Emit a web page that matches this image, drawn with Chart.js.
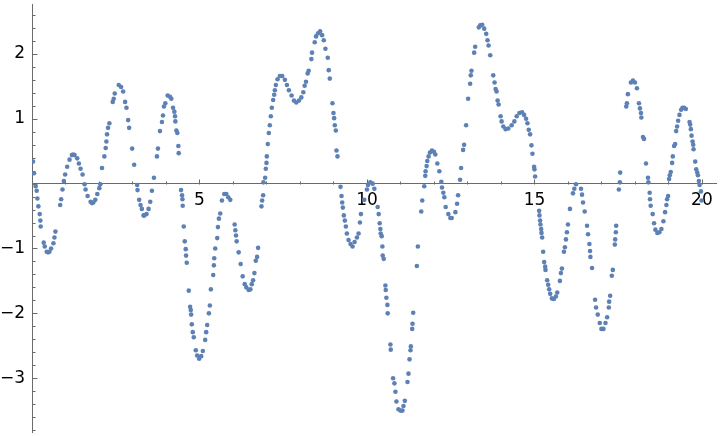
<!DOCTYPE html>
<html>
<head>
<meta charset="utf-8">
<script src="https://cdn.jsdelivr.net/npm/chart.js@4"></script>
<style>
  html, body { margin: 0; padding: 0; background: #fff; }
</style>
</head>
<body>
<canvas id="plot" width="720" height="436"></canvas>
<script>
const samples = [
  [0.03,0.34],[0.06,0.16],[0.11,-0.04],[0.14,-0.11],[0.16,-0.23],[0.19,-0.35],[0.23,-0.47],[0.25,-0.57],
  [0.26,-0.66],[0.35,-0.91],[0.38,-0.97],[0.44,-1.05],[0.48,-1.06],[0.52,-1.05],[0.57,-1.00],[0.64,-0.92],
  [0.67,-0.83],[0.70,-0.74],[0.84,-0.33],[0.87,-0.24],[0.91,-0.09],[0.95,0.04],[0.99,0.14],[1.05,0.26],
  [1.12,0.37],[1.19,0.44],[1.23,0.45],[1.27,0.44],[1.35,0.39],[1.40,0.31],[1.45,0.23],[1.51,0.14],
  [1.57,-0.01],[1.60,-0.09],[1.66,-0.19],[1.75,-0.28],[1.79,-0.30],[1.83,-0.29],[1.89,-0.25],[1.95,-0.16],
  [2.01,-0.07],[2.04,-0.01],[2.09,0.24],[2.16,0.42],[2.20,0.55],[2.22,0.65],[2.24,0.76],[2.27,0.86],
  [2.31,0.93],[2.41,1.26],[2.44,1.31],[2.47,1.39],[2.59,1.52],[2.66,1.49],[2.72,1.42],[2.78,1.26],
  [2.82,1.17],[2.87,0.98],[2.90,0.86],[2.99,0.54],[3.05,0.29],[3.14,-0.02],[3.15,-0.10],[3.20,-0.25],
  [3.24,-0.33],[3.28,-0.39],[3.33,-0.49],[3.35,-0.49],[3.42,-0.47],[3.48,-0.39],[3.53,-0.28],[3.58,-0.11],
  [3.64,0.09],[3.73,0.42],[3.76,0.54],[3.82,0.81],[3.88,0.95],[3.91,1.05],[3.94,1.19],[3.98,1.24],
  [4.05,1.36],[4.12,1.34],[4.16,1.31],[4.21,1.17],[4.25,1.11],[4.27,1.04],[4.28,0.96],[4.31,0.82],
  [4.34,0.78],[4.37,0.58],[4.38,0.47],[4.45,-0.10],[4.48,-0.18],[4.49,-0.24],[4.50,-0.34],[4.53,-0.66],
  [4.56,-0.89],[4.59,-1.01],[4.60,-1.11],[4.62,-1.22],[4.68,-1.65],[4.72,-1.90],[4.74,-1.95],[4.75,-2.02],
  [4.77,-2.17],[4.80,-2.29],[4.83,-2.37],[4.89,-2.57],[4.93,-2.65],[4.99,-2.70],[5.05,-2.66],[5.10,-2.58],
  [5.17,-2.41],[5.20,-2.29],[5.23,-2.18],[5.28,-2.00],[5.31,-1.88],[5.34,-1.63],[5.41,-1.41],[5.43,-1.26],
  [5.44,-1.15],[5.47,-1.00],[5.53,-0.84],[5.55,-0.67],[5.58,-0.54],[5.62,-0.46],[5.67,-0.26],[5.74,-0.16],
  [5.80,-0.16],[5.86,-0.21],[5.92,-0.25],[6.05,-0.63],[6.07,-0.72],[6.09,-0.80],[6.11,-0.89],[6.17,-1.06],
  [6.23,-1.24],[6.29,-1.43],[6.35,-1.55],[6.40,-1.60],[6.47,-1.64],[6.52,-1.63],[6.56,-1.55],[6.60,-1.49],
  [6.64,-1.38],[6.68,-1.19],[6.72,-1.13],[6.75,-0.99],[6.85,-0.35],[6.87,-0.26],[6.90,-0.18],[6.91,0.02],
  [6.96,0.09],[6.98,0.23],[7.00,0.32],[7.01,0.42],[7.04,0.61],[7.07,0.78],[7.10,0.90],[7.13,1.04],
  [7.16,1.17],[7.20,1.29],[7.23,1.37],[7.25,1.44],[7.28,1.52],[7.33,1.61],[7.40,1.66],[7.47,1.66],
  [7.55,1.60],[7.61,1.52],[7.67,1.44],[7.75,1.36],[7.82,1.28],[7.89,1.25],[7.97,1.28],[8.04,1.33],
  [8.10,1.41],[8.14,1.51],[8.18,1.57],[8.23,1.70],[8.26,1.74],[8.34,1.92],[8.36,2.02],[8.44,2.18],
  [8.48,2.27],[8.54,2.32],[8.60,2.35],[8.66,2.29],[8.71,2.21],[8.76,2.08],[8.83,1.94],[8.86,1.75],
  [8.89,1.62],[8.97,1.24],[9.00,1.09],[9.02,1.01],[9.04,0.90],[9.07,0.82],[9.09,0.51],[9.12,0.42],
  [9.21,-0.05],[9.24,-0.19],[9.26,-0.29],[9.28,-0.37],[9.31,-0.49],[9.34,-0.57],[9.37,-0.66],[9.40,-0.77],
  [9.45,-0.87],[9.51,-0.93],[9.57,-0.97],[9.63,-0.90],[9.70,-0.83],[9.75,-0.77],[9.79,-0.60],[9.82,-0.47],
  [9.92,-0.25],[10.00,-0.09],[10.03,-0.02],[10.10,0.02],[10.17,0.00],[10.22,-0.08],[10.32,-0.36],[10.35,-0.47],
  [10.38,-0.61],[10.40,-0.70],[10.41,-0.77],[10.44,-0.81],[10.46,-0.97],[10.47,-1.11],[10.50,-1.16],[10.55,-1.57],
  [10.56,-1.64],[10.58,-1.76],[10.61,-1.87],[10.62,-2.00],[10.70,-2.48],[10.71,-2.56],[10.78,-3.00],[10.82,-3.08],
  [10.85,-3.21],[10.88,-3.36],[10.94,-3.48],[11.00,-3.50],[11.06,-3.50],[11.09,-3.43],[11.13,-3.35],[11.21,-3.06],
  [11.24,-2.93],[11.27,-2.71],[11.30,-2.57],[11.31,-2.51],[11.35,-2.24],[11.36,-2.16],[11.38,-1.99],[11.49,-1.27],
  [11.52,-0.97],[11.62,-0.43],[11.65,-0.26],[11.71,-0.04],[11.74,0.12],[11.75,0.19],[11.78,0.27],[11.80,0.35],
  [11.84,0.42],[11.88,0.48],[11.94,0.51],[12.00,0.49],[12.04,0.45],[12.10,0.31],[12.16,0.19],[12.22,0.03],
  [12.24,-0.06],[12.28,-0.14],[12.31,-0.21],[12.35,-0.36],[12.43,-0.47],[12.49,-0.53],[12.53,-0.53],[12.64,-0.44],
  [12.69,-0.31],[12.72,-0.18],[12.78,0.06],[12.81,0.24],[12.87,0.52],[12.90,0.60],[12.96,0.90],[13.02,1.31],
  [13.08,1.54],[13.10,1.67],[13.12,1.74],[13.20,2.02],[13.23,2.11],[13.34,2.41],[13.38,2.44],[13.44,2.45],
  [13.50,2.39],[13.56,2.31],[13.60,2.21],[13.63,2.13],[13.68,1.98],[13.77,1.67],[13.81,1.56],[13.84,1.46],
  [13.87,1.42],[13.90,1.28],[13.93,1.22],[13.99,1.04],[14.02,0.96],[14.07,0.88],[14.14,0.84],[14.22,0.85],
  [14.32,0.90],[14.40,0.96],[14.47,1.04],[14.55,1.09],[14.63,1.10],[14.69,1.06],[14.75,1.00],[14.79,0.93],
  [14.83,0.83],[14.87,0.76],[14.91,0.59],[14.94,0.46],[14.99,0.26],[15.00,0.22],[15.02,0.11],[15.14,-0.42],
  [15.15,-0.49],[15.17,-0.57],[15.18,-0.63],[15.20,-0.70],[15.21,-0.76],[15.23,-0.83],[15.26,-1.05],[15.29,-1.21],
  [15.32,-1.28],[15.33,-1.33],[15.38,-1.49],[15.41,-1.56],[15.44,-1.63],[15.47,-1.70],[15.52,-1.77],[15.58,-1.78],
  [15.64,-1.74],[15.68,-1.68],[15.76,-1.50],[15.79,-1.38],[15.82,-1.31],[15.88,-1.05],[15.91,-0.98],[15.94,-0.86],
  [15.97,-0.75],[16.00,-0.63],[16.06,-0.39],[16.15,-0.15],[16.19,-0.08],[16.24,-0.01],[16.39,-0.08],[16.42,-0.17],
  [16.45,-0.29],[16.50,-0.43],[16.57,-0.65],[16.60,-0.78],[16.64,-0.93],[16.66,-1.04],[16.67,-1.13],[16.72,-1.30],
  [16.81,-1.79],[16.84,-1.91],[16.89,-2.02],[16.95,-2.15],[17.00,-2.24],[17.06,-2.24],[17.12,-2.15],[17.17,-2.06],
  [17.22,-1.91],[17.23,-1.82],[17.26,-1.73],[17.31,-1.42],[17.34,-1.33],[17.40,-0.94],[17.41,-0.86],[17.43,-0.75],
  [17.44,-0.65],[17.52,-0.09],[17.55,0.02],[17.56,0.17],[17.74,1.19],[17.76,1.24],[17.79,1.38],[17.88,1.56],
  [17.94,1.59],[18.00,1.56],[18.06,1.47],[18.12,1.24],[18.15,1.16],[18.18,1.09],[18.19,1.02],[18.24,0.72],
  [18.27,0.69],[18.33,0.31],[18.39,0.09],[18.40,0.02],[18.44,-0.14],[18.45,-0.24],[18.47,-0.34],[18.53,-0.47],
  [18.57,-0.61],[18.61,-0.71],[18.67,-0.76],[18.73,-0.75],[18.79,-0.70],[18.85,-0.58],[18.90,-0.44],[18.94,-0.33],
  [18.96,-0.24],[18.99,-0.19],[19.02,0.07],[19.04,0.13],[19.07,0.18],[19.11,0.32],[19.13,0.42],[19.17,0.58],
  [19.20,0.61],[19.23,0.81],[19.26,0.88],[19.29,0.97],[19.33,1.06],[19.38,1.14],[19.42,1.17],[19.47,1.17],
  [19.52,1.15],[19.63,0.95],[19.65,0.91],[19.67,0.84],[19.69,0.74],[19.72,0.65],[19.74,0.60],[19.75,0.53],
  [19.80,0.34],[19.83,0.22],[19.86,0.17],[19.88,0.13],[19.91,0.04],[19.93,-0.02],[19.97,-0.12],[19.99,-0.26]
];

const xTickLabels = [5, 10, 15, 20];
const yTickLabels = [-3, -2, -1, 1, 2];

const axisColor = '#6b6b6b';
const labelFont = { family: 'DejaVu Sans', size: 17 };

function fmt(v) {
  return v < 0 ? '\u2212' + Math.abs(v) : String(v);
}

// Mathematica-style tick marks: on the inside of the axes, minor + major
const axisTicks = {
  id: 'axisTicks',
  beforeDatasetsDraw(chart) {
    const { ctx, scales: { x, y } } = chart;
    const x0 = Math.round(x.getPixelForValue(0)) + 0.5;
    const y0 = Math.round(y.getPixelForValue(0)) + 0.5;
    ctx.save();
    ctx.strokeStyle = axisColor;
    ctx.lineWidth = 1;
    ctx.beginPath();
    for (let i = -19; i <= 13; i++) {
      const py = Math.round(y.getPixelForValue(i / 5)) + 0.5;
      const len = i % 5 === 0 ? 5 : 3;
      ctx.moveTo(x0, py);
      ctx.lineTo(x0 + len, py);
    }
    for (let v = 1; v <= 20; v++) {
      const px = Math.round(x.getPixelForValue(v)) + 0.5;
      const len = v % 5 === 0 ? 5 : 3;
      ctx.moveTo(px, y0);
      ctx.lineTo(px, y0 - len);
    }
    ctx.stroke();
    ctx.restore();
  }
};

new Chart(document.getElementById('plot'), {
  type: 'scatter',
  data: {
    datasets: [{
      data: samples.map(([x, y]) => ({ x, y })),
      pointRadius: 2.3,
      pointBackgroundColor: '#5e81b5',
      pointBorderWidth: 0,
      showLine: false
    }]
  },
  options: {
    responsive: false,
    animation: false,
    layout: { padding: { left: 0, right: 2, top: 2, bottom: 3 } },
    plugins: { legend: { display: false }, tooltip: { enabled: false } },
    scales: {
      x: {
        type: 'linear',
        min: 0,
        max: 20.42,
        position: { y: 0 },
        afterFit: s => { s.height = 0; s.paddingLeft = 0; s.paddingRight = 0; },
        grid: { display: false, drawTicks: false },
        border: { color: axisColor, width: 1 },
        ticks: {
          stepSize: 1,
          autoSkip: false,
          includeBounds: false,
          maxRotation: 0,
          padding: 7,
          color: '#000',
          font: labelFont,
          callback: v => xTickLabels.includes(v) ? fmt(v) : ''
        }
      },
      y: {
        type: 'linear',
        min: -3.83,
        max: 2.77,
        position: 'left',
        afterFit: s => { s.width = 32; s.paddingTop = 0; s.paddingBottom = 0; },
        grid: { display: false, drawTicks: false },
        border: { color: axisColor, width: 1 },
        ticks: {
          stepSize: 1,
          autoSkip: false,
          includeBounds: false,
          padding: 7,
          color: '#000',
          font: labelFont,
          callback: v => yTickLabels.includes(v) ? fmt(v) : ''
        }
      }
    }
  },
  plugins: [axisTicks]
});
</script>
</body>
</html>
